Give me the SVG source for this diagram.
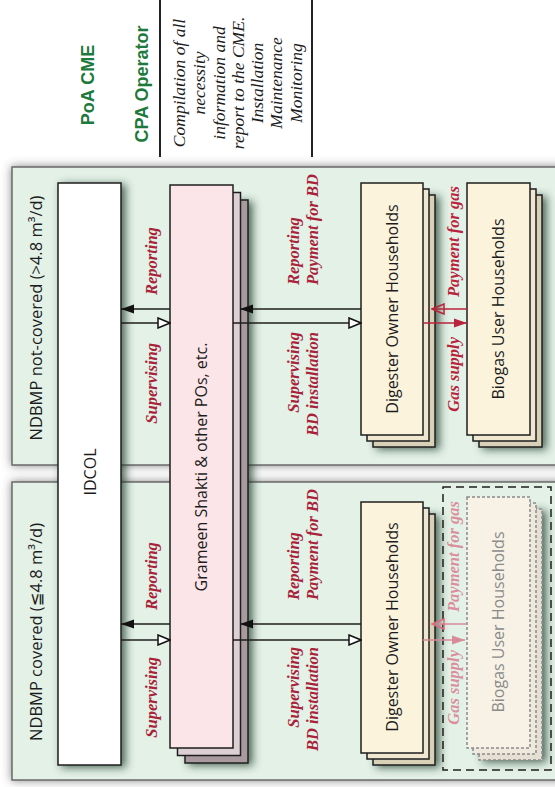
<svg xmlns="http://www.w3.org/2000/svg" width="555" height="787" viewBox="0 0 555 787">
<defs>
<style>
.box{font-family:"Open Sans","Liberation Sans",sans-serif;font-size:16px;fill:#1c1c1c}
.ttl{font-family:"Open Sans","DejaVu Sans",sans-serif;font-size:16.5px;fill:#1c1c1c}
.red{font-family:"Liberation Serif",serif;font-style:italic;font-weight:bold;font-size:16.5px;fill:#a8233a}
.redf{font-family:"Liberation Serif",serif;font-style:italic;font-weight:bold;font-size:16.5px;fill:#d9909c}
.grn{font-family:"Liberation Sans",sans-serif;font-weight:bold;font-size:18px;fill:#1d7a3c}
.note{font-family:"Liberation Serif",serif;font-style:italic;font-size:17.5px;fill:#1c1c1c}
.panel{fill:#e4f1e7;stroke:#6a6a6a;stroke-width:1.5}
.frame{stroke:#1e1e1e;stroke-width:1.5}
.ln{fill:none;stroke:#1e1e1e;stroke-width:1.5}
.lnr{fill:none;stroke:#b8243c;stroke-width:1.5}
.lnf{fill:none;stroke:#d98a98;stroke-width:1.5}
</style>
<filter id="sh" x="-30%" y="-10%" width="160%" height="120%">
<feDropShadow dx="4" dy="2" stdDeviation="4" flood-color="#1f3a2c" flood-opacity="0.75"/>
</filter>
<filter id="psh" x="-5%" y="-10%" width="110%" height="120%">
<feDropShadow dx="0" dy="0" stdDeviation="5" flood-color="#444" flood-opacity="0.65"/>
</filter>
<marker id="af" markerUnits="userSpaceOnUse" markerWidth="14" markerHeight="10" refX="13" refY="5" orient="auto">
<path d="M0,0.5 L13,5 L0,9.5 z" fill="#111"/>
</marker>
<marker id="ao" markerUnits="userSpaceOnUse" markerWidth="14" markerHeight="12" refX="13" refY="6" orient="auto">
<path d="M1,1 L13,6 L1,11 z" fill="#fff" stroke="#111" stroke-width="1.5"/>
</marker>
<marker id="rf" markerUnits="userSpaceOnUse" markerWidth="14" markerHeight="10" refX="13" refY="5" orient="auto">
<path d="M0,0.5 L13,5 L0,9.5 z" fill="#b8243c"/>
</marker>
<marker id="ro" markerUnits="userSpaceOnUse" markerWidth="14" markerHeight="12" refX="13" refY="6" orient="auto">
<path d="M1,1 L13,6 L1,11 z" fill="none" stroke="#b8243c" stroke-width="1.5"/>
</marker>
<marker id="ff" markerUnits="userSpaceOnUse" markerWidth="14" markerHeight="10" refX="13" refY="5" orient="auto">
<path d="M0,0.5 L13,5 L0,9.5 z" fill="#d98a98"/>
</marker>
<marker id="fo" markerUnits="userSpaceOnUse" markerWidth="14" markerHeight="12" refX="13" refY="6" orient="auto">
<path d="M1,1 L13,6 L1,11 z" fill="none" stroke="#d9707f" stroke-width="1.5"/>
</marker>
</defs>
<rect width="555" height="787" fill="#fff"/>

<!-- header -->
<g id="header">
<line x1="160" y1="0" x2="160" y2="157" stroke="#222" stroke-width="2"/>
<line x1="312" y1="0" x2="312" y2="157" stroke="#222" stroke-width="2"/>
<text class="grn" transform="translate(88,85) rotate(-90)" text-anchor="middle" dominant-baseline="central">PoA CME</text>
<text class="grn" transform="translate(142,84) rotate(-90)" text-anchor="middle" dominant-baseline="central">CPA Operator</text>
<g class="note" text-anchor="middle" dominant-baseline="central">
<text transform="translate(179,83) rotate(-90)">Compilation of all</text>
<text transform="translate(199,83) rotate(-90)">necessity</text>
<text transform="translate(219,83) rotate(-90)">information and</text>
<text transform="translate(238,83) rotate(-90)">report to the CME.</text>
<text transform="translate(257,83) rotate(-90)">Installation</text>
<text transform="translate(276,83) rotate(-90)">Maintenance</text>
<text transform="translate(296,83) rotate(-90)">Monitoring</text>
</g>
</g>

<!-- panels -->
<g id="panel-notcovered">
<rect class="panel" x="12" y="167" width="560" height="298" filter="url(#psh)"/>
<text class="ttl" transform="translate(35,318) rotate(-90)" text-anchor="middle" dominant-baseline="central">NDBMP not-covered (&gt;4.8 m³/d)</text>
</g>
<g id="panel-covered">
<rect class="panel" x="12" y="482" width="560" height="298" filter="url(#psh)"/>
<text class="ttl" transform="translate(35,632) rotate(-90)" text-anchor="middle" dominant-baseline="central">NDBMP covered (≦4.8 m³/d)</text>
</g>

<!-- nodes -->
<g id="idcol">
<rect class="frame" x="58" y="183" width="63" height="582" fill="#ffffff" filter="url(#sh)"/>
<text class="box" transform="translate(90,472) rotate(-90)" text-anchor="middle" dominant-baseline="central">IDCOL</text>
</g>

<g id="grameen">
<rect class="frame" x="185" y="200" width="63" height="563" fill="#a99aa0" filter="url(#sh)"/>
<rect class="frame" x="177.5" y="192.5" width="63" height="563" fill="#ddd0d4"/>
<rect class="frame" x="170" y="185" width="63" height="563" fill="#fbe5e8"/>
<text class="box" transform="translate(201,467) rotate(-90)" text-anchor="middle" dominant-baseline="central">Grameen Shakti &amp; other POs, etc.</text>
</g>

<g id="digester-top">
<rect class="frame" x="373" y="195" width="62" height="252" fill="#d9d0b8" filter="url(#sh)"/>
<rect class="frame" x="367" y="189" width="62" height="252" fill="#efe7cf"/>
<rect class="frame" x="361" y="183" width="62" height="252" fill="#fbf3dc"/>
<text class="box" transform="translate(392,309) rotate(-90)" text-anchor="middle" dominant-baseline="central">Digester Owner Households</text>
</g>

<g id="biogas-top">
<rect class="frame" x="479" y="195" width="63" height="252" fill="#d9d0b8" filter="url(#sh)"/>
<rect class="frame" x="473" y="189" width="63" height="252" fill="#efe7cf"/>
<rect class="frame" x="467" y="183" width="63" height="252" fill="#fbf3dc"/>
<text class="box" transform="translate(498,309) rotate(-90)" text-anchor="middle" dominant-baseline="central">Biogas User Households</text>
</g>

<g id="digester-bottom">
<rect class="frame" x="373" y="514" width="62" height="251" fill="#d9d0b8" filter="url(#sh)"/>
<rect class="frame" x="367" y="508" width="62" height="251" fill="#efe7cf"/>
<rect class="frame" x="361" y="502" width="62" height="251" fill="#fbf3dc"/>
<text class="box" transform="translate(392,627) rotate(-90)" text-anchor="middle" dominant-baseline="central">Digester Owner Households</text>
</g>

<g id="biogas-bottom">
<rect x="443" y="487" width="108" height="283" fill="none" stroke="#1e1e1e" stroke-width="1.5" stroke-dasharray="8,5"/>
<rect x="479" y="509" width="63" height="251" fill="#e6e0d4" stroke="#8a8a8a" stroke-width="1.5" stroke-dasharray="3,2" filter="url(#sh)"/>
<rect x="473" y="503" width="63" height="251" fill="#efe9dd" stroke="#8a8a8a" stroke-width="1.5" stroke-dasharray="3,2"/>
<rect x="467" y="497" width="63" height="251" fill="#f8f2e6" stroke="#8a8a8a" stroke-width="1.5" stroke-dasharray="3,2"/>
<text class="box" transform="translate(498,622) rotate(-90)" text-anchor="middle" dominant-baseline="central" style="fill:#8a8a8a">Biogas User Households</text>
</g>

<!-- connectors -->
<g id="connectors">
<path class="ln" d="M170,309 L121,309" marker-end="url(#af)"/>
<path class="ln" d="M121,323 L170,323" marker-end="url(#ao)"/>
<path class="ln" d="M361,309 L240,309" marker-end="url(#af)"/>
<path class="ln" d="M233,323 L361,323" marker-end="url(#ao)"/>
<path class="lnr" d="M423,323 L467,323" marker-end="url(#rf)"/>
<path class="lnr" d="M467,309 L432,309" marker-end="url(#ro)"/>

<path class="ln" d="M170,624 L121,624" marker-end="url(#af)"/>
<path class="ln" d="M121,640 L170,640" marker-end="url(#ao)"/>
<path class="ln" d="M361,624 L240,624" marker-end="url(#af)"/>
<path class="ln" d="M233,640 L361,640" marker-end="url(#ao)"/>
<path class="lnf" d="M423,640 L465,640" marker-end="url(#ff)"/>
<path class="lnf" d="M467,624 L432,624" marker-end="url(#fo)"/>
</g>

<!-- connector labels -->
<g id="labels" dominant-baseline="central">
<text class="red" transform="translate(151,295) rotate(-90)">Reporting</text>
<text class="red" transform="translate(151,343) rotate(-90)" text-anchor="end">Supervising</text>
<text class="red" transform="translate(293,285) rotate(-90)">Reporting</text>
<text class="red" transform="translate(312,285) rotate(-90)">Payment for BD</text>
<text class="red" transform="translate(293,332) rotate(-90)" text-anchor="end">Supervising</text>
<text class="red" transform="translate(312,332) rotate(-90)" text-anchor="end">BD installation</text>
<text class="red" transform="translate(453,297) rotate(-90)" style="fill:#b8243c">Payment for gas</text>
<text class="red" transform="translate(453,337) rotate(-90)" text-anchor="end" style="fill:#b8243c">Gas supply</text>

<text class="red" transform="translate(151,610) rotate(-90)">Reporting</text>
<text class="red" transform="translate(151,657) rotate(-90)" text-anchor="end">Supervising</text>
<text class="red" transform="translate(293,600) rotate(-90)">Reporting</text>
<text class="red" transform="translate(312,600) rotate(-90)">Payment for BD</text>
<text class="red" transform="translate(293,647) rotate(-90)" text-anchor="end">Supervising</text>
<text class="red" transform="translate(312,647) rotate(-90)" text-anchor="end">BD installation</text>
<text class="redf" transform="translate(453,612) rotate(-90)">Payment for gas</text>
<text class="redf" transform="translate(453,650) rotate(-90)" text-anchor="end">Gas supply</text>
</g>
</svg>
